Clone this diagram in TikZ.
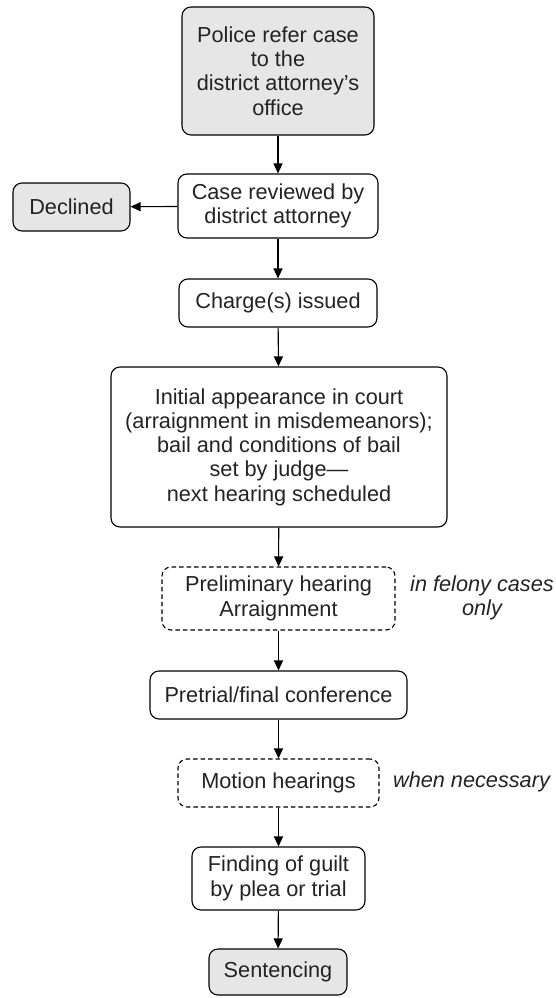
\documentclass[tikz,border=0pt]{standalone}
\usepackage{fontspec}
\setmainfont{Liberation Sans}
\usetikzlibrary{arrows.meta}
\definecolor{boxgray}{RGB}{230,230,231}
\definecolor{inkgray}{RGB}{35,35,35}
\begin{document}
\begin{tikzpicture}[x=1pt,y=1pt,
  every node/.style={font=\fontsize{21.7}{24.3}\selectfont, align=center, inner sep=0pt, text=inkgray},
  stepbox/.style={draw, line width=1.1pt, rounded corners=9pt},
  startbox/.style={stepbox, fill=boxgray},
  optbox/.style={stepbox, dash pattern=on 4.5pt off 3pt},
  note/.style={font=\fontsize{21.7}{24.3}\selectfont\itshape},
  flow/.style={line width=1.1pt, -{Triangle[length=10pt,width=9pt]}}]
\useasboundingbox (0,0) rectangle (555,-998);
\node[startbox, minimum width=192pt, minimum height=128pt] (police) at (278,-71) {Police refer case\\to the\\district attorney’s\\office};
\node[stepbox, minimum width=200pt, minimum height=64pt] (review) at (278,-206) {Case reviewed by\\district attorney};
\node[startbox, minimum width=117pt, minimum height=48pt] (declined) at (71.5,-207) {Declined};
\node[stepbox, minimum width=198pt, minimum height=48pt] (charge) at (278,-303) {Charge(s) issued};
\node[stepbox, minimum width=336pt, minimum height=160pt] (initial) at (279,-447) {Initial appearance in court\\(arraignment in misdemeanors);\\bail and conditions of bail\\set by judge—\\next hearing scheduled};
\node[optbox, minimum width=233pt, minimum height=63pt] (prelim) at (278.5,-598.5) {Preliminary hearing\\Arraignment};
\node[note] (felony) at (482,-598) {in felony cases\\only};
\node[stepbox, minimum width=257pt, minimum height=48pt] (pretrial) at (278.5,-695) {Pretrial/final conference};
\node[optbox, minimum width=201pt, minimum height=48pt] (motion) at (278.5,-783) {Motion hearings};
\node[note] (necessary) at (471.5,-782) {when necessary};
\node[stepbox, minimum width=173pt, minimum height=63pt] (guilt) at (278.5,-878.5) {Finding of guilt\\by plea or trial};
\node[startbox, minimum width=138pt, minimum height=46pt] (sentence) at (278,-972) {Sentencing};
\draw[flow] (police) -- (review);
\draw[flow] (review) -- (declined);
\draw[flow] (review) -- (charge);
\draw[flow] (charge) -- (initial);
\draw[flow] (initial) -- (prelim);
\draw[flow] (prelim) -- (pretrial);
\draw[flow] (pretrial) -- (motion);
\draw[flow] (motion) -- (guilt);
\draw[flow] (guilt) -- (sentence);
\end{tikzpicture}
\end{document}
